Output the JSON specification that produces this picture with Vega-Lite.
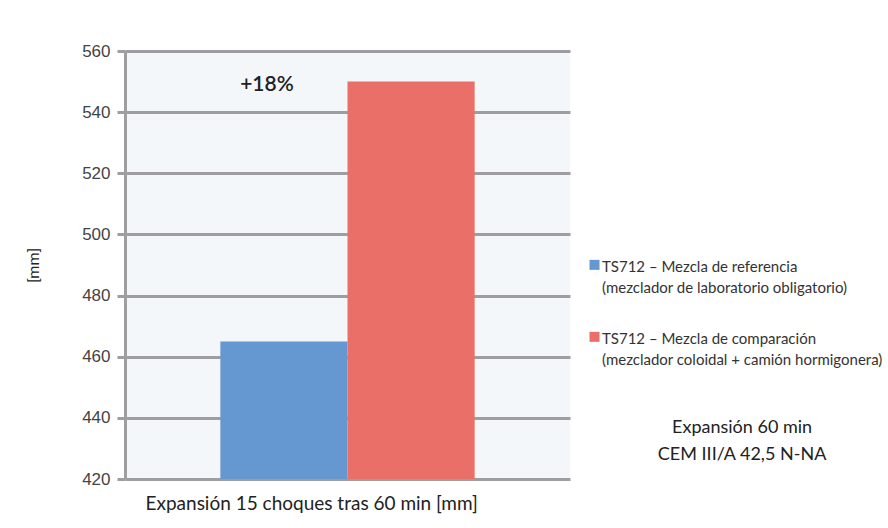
{
  "$schema": "https://vega.github.io/schema/vega-lite/v6.json",
  "width": 445,
  "height": 428,
  "autosize": {"type": "none"},
  "padding": {"left": 125, "top": 51, "right": 318, "bottom": 49},
  "background": "white",
  "config": {
    "view": {"fill": "#f4f7fa", "stroke": null},
    "style": {"guide-label": {"lineHeight": 21}}
  },
  "datasets": {
    "bars": [
      {"serie": "TS712 – Mezcla de referencia|(mezclador de laboratorio obligatorio)", "valor": 465},
      {"serie": "TS712 – Mezcla de comparación|(mezclador coloidal + camión hormigonera)", "valor": 550}
    ],
    "pct": [
      {"serie": "TS712 – Mezcla de referencia|(mezclador de laboratorio obligatorio)", "valor": 547, "label": "+18%"}
    ],
    "nota": [
      {"serie": "TS712 – Mezcla de comparación|(mezclador coloidal + camión hormigonera)", "valor": 435, "label": ["Expansión 60 min", "CEM III/A 42,5 N-NA"]}
    ]
  },
  "encoding": {
    "x": {
      "field": "serie",
      "type": "nominal",
      "sort": null,
      "scale": {"paddingInner": 0, "paddingOuter": 0.75},
      "axis": {
        "labels": false,
        "ticks": false,
        "domain": false,
        "title": "Expansión 15 choques tras 60 min [mm]",
        "titleFont": "Lato",
        "titleFontSize": 19,
        "titleFontWeight": "normal",
        "titleColor": "#222222",
        "titleAnchor": "start",
        "titleAlign": "left",
        "titleBaseline": "alphabetic",
        "titleX": 20,
        "titleY": 30
      }
    },
    "y": {
      "field": "valor",
      "type": "quantitative",
      "scale": {"domain": [420, 560], "nice": false, "zero": false},
      "axis": {
        "values": [420, 440, 460, 480, 500, 520, 540, 560],
        "grid": true,
        "gridColor": "#9e9ea2",
        "gridWidth": 3,
        "domain": true,
        "domainColor": "#9e9ea2",
        "domainWidth": 3,
        "ticks": true,
        "tickColor": "#9e9ea2",
        "tickWidth": 3,
        "tickSize": 8,
        "labelFont": "Liberation Sans",
        "labelFontSize": 17,
        "labelColor": "#444444",
        "labelPadding": 7,
        "title": "[mm]",
        "titleFont": "Lato",
        "titleFontSize": 16,
        "titleFontWeight": "normal",
        "titleColor": "#222222",
        "titlePadding": 40
      }
    }
  },
  "layer": [
    {
      "data": {"name": "bars"},
      "mark": {"type": "bar", "clip": true},
      "encoding": {
        "color": {
          "field": "serie",
          "type": "nominal",
          "sort": null,
          "scale": {"range": ["#6598d0", "#ea6f68"]},
          "legend": {
            "title": null,
            "orient": "none",
            "legendX": 462,
            "legendY": 201,
            "direction": "vertical",
            "padding": 0,
            "symbolType": "M-1,0.07H1V2.07H-1Z",
            "symbolSize": 100,
            "symbolStrokeWidth": 0,
            "symbolOpacity": 1,
            "labelFont": "Lato",
            "labelFontSize": 15,
            "labelColor": "#333333",
            "labelBaseline": "top",
            "labelOffset": 0,
            "labelLimit": 400,
            "rowPadding": 28,
            "labelExpr": "split(datum.label, '|')"
          }
        }
      }
    },
    {
      "data": {"name": "pct"},
      "mark": {"type": "text", "font": "Lato", "fontSize": 21, "fontWeight": 600, "color": "#222222", "align": "center", "baseline": "alphabetic", "dx": -17},
      "encoding": {"text": {"field": "label", "type": "nominal"}}
    },
    {
      "data": {"name": "nota"},
      "mark": {"type": "text", "font": "Lato", "fontSize": 18, "color": "#222222", "align": "center", "baseline": "alphabetic", "dx": 331, "lineHeight": 27},
      "encoding": {"text": {"field": "label", "type": "nominal"}}
    }
  ]
}
